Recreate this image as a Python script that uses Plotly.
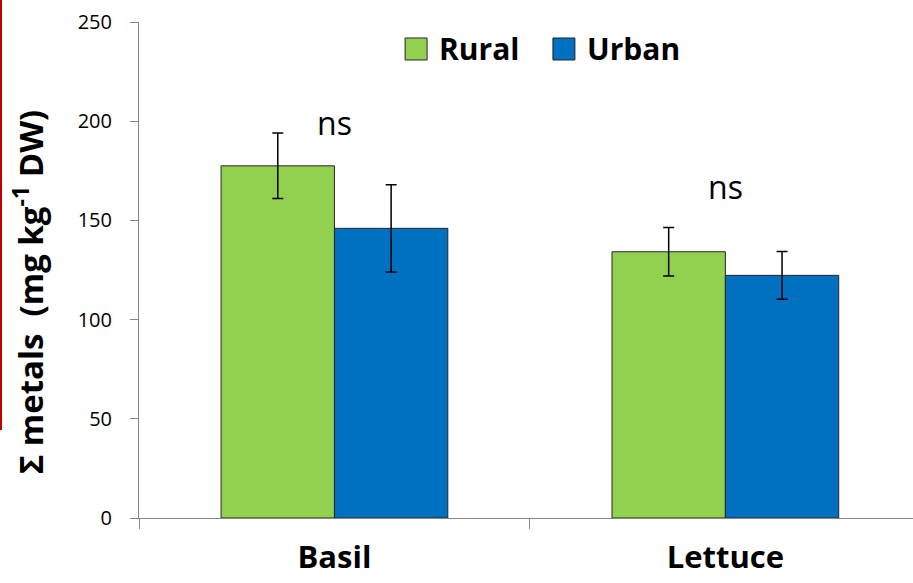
import plotly.graph_objects as go

# Sum of metals in basil and lettuce grown at rural vs urban sites
crops = ["Basil", "Lettuce"]
rural_mean = [177.5, 134.2]
rural_err = [16.5, 12.2]
urban_mean = [146.0, 122.3]
urban_err = [22.0, 12.0]
sig_labels = ["ns", "ns"]
sig_y = [199.5, 167.0]
y_ticks = [0, 50, 100, 150, 200, 250]

GREEN = "#92D050"
BLUE = "#0070C0"
AXIS_GREY = "#868686"
FONT = "Open Sans"

fig = go.Figure()
fig.add_trace(go.Bar(
    x=crops, y=rural_mean, name="Rural",
    marker=dict(color=GREEN, line=dict(color="#262626", width=1)),
    error_y=dict(type="data", array=rural_err, visible=True,
                 color="black", thickness=1.5, width=5.5),
))
fig.add_trace(go.Bar(
    x=crops, y=urban_mean, name="Urban",
    marker=dict(color=BLUE, line=dict(color="#262626", width=1)),
    error_y=dict(type="data", array=urban_err, visible=True,
                 color="black", thickness=1.5, width=5.5),
))

# significance labels above each pair
for crop, lab, yv in zip(crops, sig_labels, sig_y):
    fig.add_annotation(x=crop, y=yv, text=lab, showarrow=False,
                       xanchor="center", yanchor="middle",
                       font=dict(family=FONT, size=32, color="black"))

# hand-built legend: coloured squares followed by bold labels
legend_items = [("Rural", GREEN, 0.358, 0.385), ("Urban", BLUE, 0.549, 0.576)]
for name, col, xs, xt in legend_items:
    fig.add_shape(type="rect", xref="paper", yref="paper",
                  x0=xs - 0.0142, x1=xs + 0.0142, y0=0.9456 - 0.0222, y1=0.9456 + 0.0222,
                  fillcolor=col, line=dict(color="#262626", width=1))
    fig.add_annotation(xref="paper", yref="paper", x=xt, y=0.9456,
                       text="<b>%s</b>" % name, showarrow=False,
                       xanchor="left", yanchor="middle",
                       font=dict(family=FONT, size=30, color="black"))

# rotated y-axis title
fig.add_annotation(xref="paper", yref="paper", x=-0.143, y=0.4556,
                   text="<b>Σ metals  (mg kg<sup>-1</sup> DW)</b>",
                   textangle=-90, showarrow=False,
                   xanchor="center", yanchor="middle",
                   font=dict(family=FONT, size=33, color="black"))

# dark red rule along the left edge
fig.add_shape(type="line", xref="paper", yref="paper",
              x0=-0.1783, x1=-0.1783, y0=0.1774, y1=1.05,
              line=dict(color="#C00000", width=2))

fig.update_layout(
    width=913, height=583,
    margin=dict(l=139, r=0, t=22, b=65),
    paper_bgcolor="white", plot_bgcolor="white",
    barmode="group", bargap=0.42, bargroupgap=0,
    showlegend=False,
    font=dict(family=FONT, color="black"),
)
fig.update_xaxes(
    range=[-0.5, 1.48], showline=True, linecolor=AXIS_GREY, linewidth=1,
    ticks="outside", tickson="boundaries", ticklen=10, tickcolor=AXIS_GREY,
    tickfont=dict(family=FONT, size=31, color="black"),
    ticklabelstandoff=12,
    tickvals=crops, ticktext=["<b>%s</b>" % c for c in crops],
    showgrid=False, zeroline=False,
)
fig.update_yaxes(
    range=[0, 250], tickvals=y_ticks, showline=True, linecolor=AXIS_GREY,
    linewidth=1, ticks="outside", ticklen=8, tickcolor=AXIS_GREY,
    tickfont=dict(family=FONT, size=20, color="black"),
    ticklabelstandoff=14,
    showgrid=False, zeroline=False,
)

fig.write_html("out.html")
